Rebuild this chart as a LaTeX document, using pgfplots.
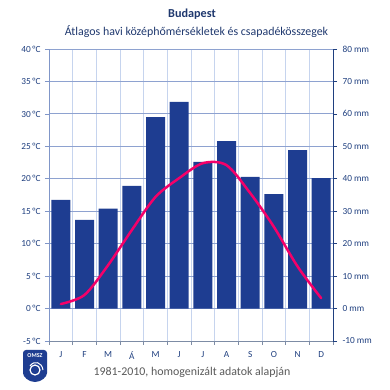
\documentclass[border=0pt]{standalone}
\usepackage{pgfplots}
\pgfplotsset{compat=1.18}
\usepackage{fontspec}
\setmainfont{Carlito}
\definecolor{barblue}{RGB}{30,61,145}
\definecolor{linepink}{RGB}{245,0,105}
\definecolor{navy}{RGB}{31,56,110}
\definecolor{ticknavy}{RGB}{31,63,127}
\definecolor{hgrid}{RGB}{142,162,208}
\definecolor{vgrid}{RGB}{198,212,238}
\definecolor{leftax}{RGB}{128,150,200}
\definecolor{botax}{RGB}{125,140,165}
\definecolor{textgray}{RGB}{89,89,89}
\begin{document}
\begin{tikzpicture}[x=1pt,y=1pt]
\path[use as bounding box] (0,0) rectangle (390,390);
% precipitation axis (right)
\begin{axis}[
  at={(49pt,49pt)}, anchor=south west, scale only axis,
  width=284pt, height=292pt,
  xmin=0.5, xmax=12.5, ymin=-10, ymax=80,
  axis y line*=right, axis x line*=bottom,
  y axis line style={draw=ticknavy, line width=0.8pt, -},
  x axis line style={draw=botax, line width=0.8pt, -},
  xtick={1,...,12},
  xticklabels={J,F,M,Á,M,J,J,A,S,O,N,D},
  minor xtick={0.5,1.5,...,12.5},
  xminorgrids=true,
  minor x grid style={draw=vgrid, line width=0.8pt},
  major x tick style={draw=none},
  minor x tick style={draw=botax, line width=0.6pt},
  minor tick length=4pt,
  ytick={-10,0,...,80},
  ymajorgrids=true,
  major y grid style={draw=hgrid, line width=0.8pt},
  ytick style={draw=ticknavy, line width=0.6pt},
  major tick length=4pt,
  tick align=outside,
  /pgf/number format/assume math mode=true,
  yticklabel={\pgfmathprintnumber{\tick} mm},
  yticklabel style={font=\fontsize{9.3}{10}\selectfont, text=ticknavy, xshift=2pt},
  xticklabel style={font=\fontsize{9.3}{10}\selectfont, text=ticknavy, yshift=-3pt},
]
\addplot[ybar, bar width=19pt, fill=barblue, draw=none] coordinates {
(1,33.5) (2,27.3) (3,30.8) (4,37.8) (5,59.0) (6,63.7)
(7,45.2) (8,51.6) (9,40.6) (10,35.3) (11,48.8) (12,40.2)};
\end{axis}
% temperature axis (left)
\begin{axis}[
  at={(49pt,49pt)}, anchor=south west, scale only axis,
  width=284pt, height=292pt,
  xmin=0.5, xmax=12.5, ymin=-5, ymax=40,
  axis y line*=left, axis x line=none,
  y axis line style={draw=leftax, line width=0.8pt, -},
  ytick={-5,0,...,40},
  ytick style={draw=leftax, line width=0.6pt},
  major tick length=4pt,
  tick align=outside,
  /pgf/number format/assume math mode=true,
  yticklabel={\pgfmathprintnumber{\tick}\,°C},
  yticklabel style={font=\fontsize{9.3}{10}\selectfont, text=ticknavy, xshift=-1pt},
]
\addplot[smooth, linepink, line width=2.5pt, line cap=round] coordinates {
(1,0.7) (2,2.1) (3,6.7) (4,12.1) (5,17.2) (6,20.1)
(7,22.4) (8,22.1) (9,17.8) (10,12.6) (11,6.5) (12,1.6)};
\end{axis}
\node[font=\fontsize{12.2}{14}\bfseries, text=navy] at (192,376) {Budapest};
\node[font=\fontsize{11.9}{14}\selectfont, text=navy] at (196.5,358) {Átlagos havi középhőmérsékletek és csapadékösszegek};
\node[font=\fontsize{11.9}{14}\selectfont, text=textgray] at (192,18) {1981-2010, homogenizált adatok alapján};
% OMSZ logo
\fill[barblue, rounded corners=3pt] (23,40) -- (47,40) -- (47,20) arc (0:-180:12 and 12) -- cycle;
\node[font=\fontsize{6}{6}\bfseries, text=white] at (35,34) {OMSZ};
\draw[white, line width=1.2pt] (35,20) circle (5);
\draw[white, line width=1pt] (30,24) .. controls (34,30) and (42,28) .. (43,20);
\end{tikzpicture}
\end{document}
